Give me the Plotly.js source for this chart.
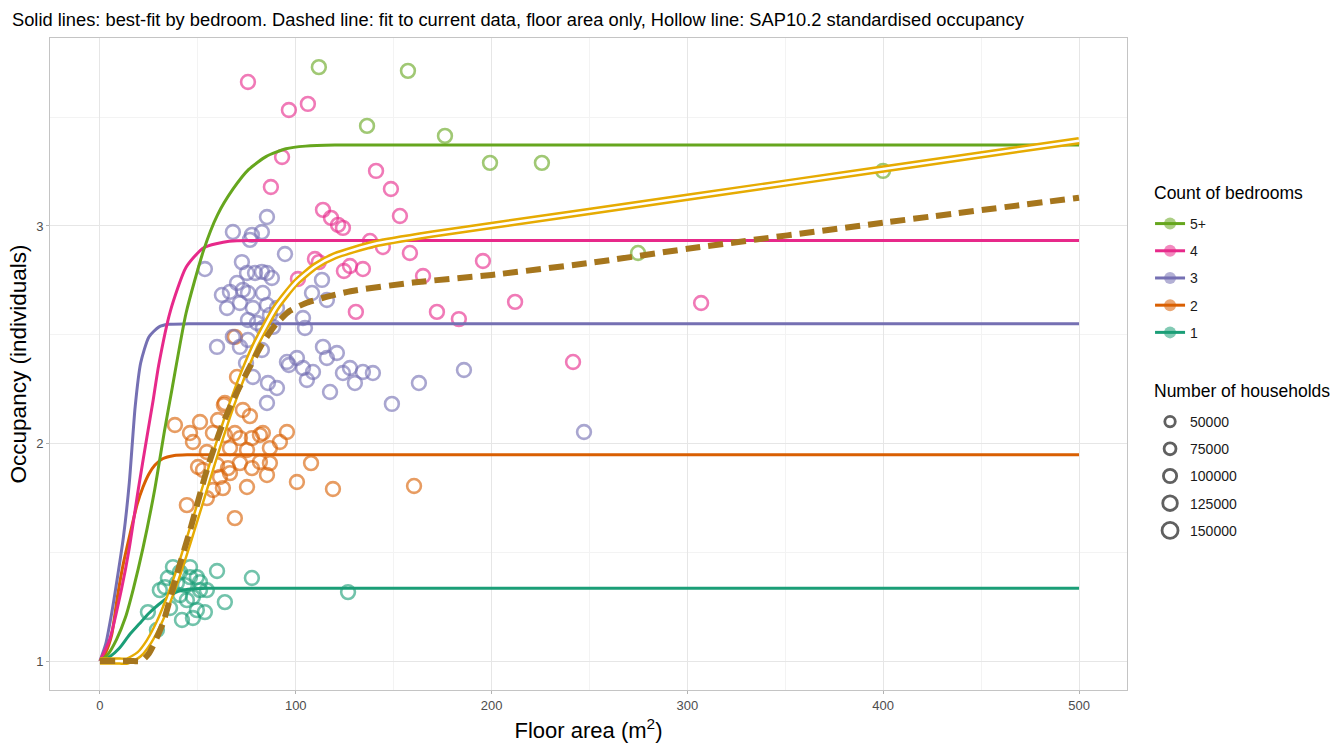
<!DOCTYPE html>
<html>
<head>
<meta charset="utf-8">
<script src="https://cdn.plot.ly/plotly-3.0.1.min.js"></script>
<style>html,body{margin:0;padding:0;background:#fff;}#chart{width:1343px;height:744px;}</style>
</head>
<body>
<div id="chart"></div>
<script>
// ---------- data ----------
var bedroomLabels = ["5+", "4", "3", "2", "1"];
var bedroomColors = {"5+": "#66A61E", "4": "#E7298A", "3": "#7570B3", "2": "#D95F02", "1": "#1B9E77"};

// observed points (floor area m2, occupancy)
var pts5X = [111.8, 157.3, 136.4, 176.2, 199.2, 225.7, 274.8, 399.9];
var pts5Y = [3.730, 3.713, 3.460, 3.414, 3.290, 3.290, 2.876, 3.253];

var pts4X = [75.6, 96.5, 106.2, 93.0, 87.3, 113.9, 118.0, 121.6, 124.1, 141.0, 148.6, 153.2, 137.9, 144.5, 134.3, 127.7, 130.7, 109.8, 101.1, 158.3, 165.0, 172.1, 183.3, 195.6, 212.0, 241.6, 307.0, 124.6, 111.8];
var pts4Y = [3.662, 3.533, 3.561, 3.317, 3.179, 3.074, 3.037, 3.005, 2.991, 3.253, 3.170, 3.046, 2.931, 2.903, 2.802, 2.816, 2.605, 2.848, 2.756, 2.876, 2.770, 2.605, 2.572, 2.839, 2.651, 2.375, 2.646, 2.793, 2.834];

var pts3X = [53.6, 67.9, 77.6, 82.7, 85.3, 94.5, 72.5, 76.6, 75.1, 79.2, 82.7, 85.3, 87.8, 70.0, 62.3, 66.4, 73.0, 75.6, 83.2, 64.9, 71.5, 78.1, 85.3, 90.4, 86.8, 103.7, 108.3, 104.7, 75.6, 80.2, 83.2, 88.4, 67.9, 59.8, 71.5, 75.6, 82.7, 78.1, 85.8, 90.4, 85.3, 95.5, 100.6, 103.7, 108.8, 105.7, 113.9, 115.9, 121.0, 124.1, 117.5, 127.7, 134.3, 139.4, 130.2, 149.1, 162.9, 185.9, 247.2, 96.5, 74.6, 113.4, 115.9];
var pts3Y = [2.802, 2.972, 2.959, 2.972, 3.041, 2.871, 2.834, 2.936, 2.784, 2.784, 2.789, 2.784, 2.761, 2.738, 2.683, 2.697, 2.706, 2.692, 2.692, 2.623, 2.646, 2.623, 2.637, 2.623, 2.591, 2.577, 2.692, 2.531, 2.568, 2.554, 2.531, 2.536, 2.490, 2.444, 2.444, 2.476, 2.430, 2.306, 2.278, 2.255, 2.186, 2.375, 2.393, 2.347, 2.329, 2.292, 2.444, 2.393, 2.416, 2.324, 2.237, 2.347, 2.329, 2.324, 2.278, 2.182, 2.278, 2.338, 2.053, 2.361, 2.370, 2.752, 2.660];

var pts2X = [63.3, 51.1, 60.3, 73.0, 76.6, 46.0, 47.5, 57.7, 63.8, 68.9, 71.5, 77.6, 81.7, 83.2, 91.9, 95.5, 54.6, 66.4, 75.1, 86.8, 50.1, 52.6, 59.8, 65.4, 71.5, 77.6, 81.7, 86.8, 61.3, 66.4, 57.7, 62.8, 75.1, 85.3, 100.6, 107.8, 119.0, 44.4, 54.6, 68.9, 38.3, 68.9, 70.0, 63.8, 160.4];
var pts2Y = [2.177, 2.099, 2.108, 2.154, 2.126, 2.048, 2.007, 2.048, 2.039, 2.048, 2.025, 2.025, 2.039, 2.048, 2.007, 2.053, 1.961, 1.979, 1.970, 1.979, 1.892, 1.878, 1.901, 1.887, 1.910, 1.887, 1.915, 1.910, 1.846, 1.864, 1.786, 1.795, 1.800, 1.855, 1.823, 1.910, 1.791, 1.717, 1.749, 1.657, 2.085, 2.490, 2.306, 2.186, 1.805];

var pts1X = [37.3, 40.9, 46.0, 59.8, 33.2, 39.3, 46.0, 49.5, 51.1, 54.6, 30.6, 40.9, 47.5, 51.1, 24.5, 35.8, 41.9, 47.5, 49.5, 53.6, 63.8, 29.1, 44.4, 77.6, 126.7, 43.4, 34.7];
var pts1Y = [1.432, 1.409, 1.432, 1.414, 1.340, 1.359, 1.386, 1.386, 1.363, 1.326, 1.326, 1.303, 1.294, 1.326, 1.225, 1.244, 1.189, 1.198, 1.234, 1.225, 1.271, 1.143, 1.280, 1.382, 1.317, 1.349, 1.382];

// best-fit curves by bedroom
var fit5X = [0, 4, 8.5, 13, 17, 22, 28, 33, 37, 44, 53, 60, 68, 76, 85, 95, 105, 120, 150, 200, 300, 400, 500];
var fit5Y = [1, 1.03, 1.10, 1.20, 1.33, 1.52, 1.79, 2.06, 2.26, 2.60, 2.89, 3.05, 3.17, 3.26, 3.32, 3.355, 3.367, 3.372, 3.372, 3.372, 3.372, 3.372, 3.372];
var fit4X = [0, 5, 11, 15, 19.6, 24, 27.2, 30, 36, 44, 53, 66, 80, 100, 150, 250, 350, 500];
var fit4Y = [1, 1.10, 1.33, 1.52, 1.79, 2.03, 2.20, 2.36, 2.61, 2.81, 2.90, 2.93, 2.933, 2.933, 2.933, 2.933, 2.933, 2.933];
var fit3X = [0, 3, 6, 8, 12, 15, 18, 20.8, 25, 30, 35, 45, 60, 100, 200, 300, 400, 500];
var fit3Y = [1, 1.08, 1.22, 1.33, 1.57, 1.82, 2.17, 2.37, 2.49, 2.535, 2.548, 2.55, 2.55, 2.55, 2.55, 2.55, 2.55, 2.55];
var fit2X = [0, 3, 6, 9, 12, 15, 19, 22, 25, 28, 32, 38, 45, 60, 100, 200, 300, 400, 500];
var fit2Y = [1, 1.04, 1.12, 1.30, 1.45, 1.57, 1.72, 1.80, 1.86, 1.90, 1.93, 1.945, 1.948, 1.948, 1.948, 1.948, 1.948, 1.948, 1.948];
var fit1X = [0, 5, 10, 15, 20, 25, 30, 35, 40, 45, 55, 70, 100, 200, 300, 400, 500];
var fit1Y = [1, 1.02, 1.06, 1.12, 1.17, 1.22, 1.26, 1.295, 1.32, 1.33, 1.335, 1.335, 1.335, 1.335, 1.335, 1.335, 1.335];

// dashed: fit to current data, floor area only
var dashX = [0, 17, 21, 25, 32, 39, 46, 54, 61, 68, 77, 83, 90, 97, 105, 114, 128, 160, 200, 250, 300, 400, 500];
var dashY = [1, 1, 1.0, 1.035, 1.17, 1.39, 1.60, 1.86, 2.05, 2.20, 2.36, 2.46, 2.55, 2.61, 2.645, 2.67, 2.70, 2.74, 2.775, 2.83, 2.895, 3.015, 3.13];

// hollow: SAP10.2 standardised occupancy
var sapX = [0, 10, 13.9, 20, 25, 30, 35, 40, 45, 50, 55, 60, 65, 70, 75, 80, 90, 100, 110, 120, 140, 170, 200, 300, 400, 500];
var sapY = [1, 1, 1, 1.031, 1.089, 1.173, 1.281, 1.406, 1.545, 1.690, 1.837, 1.982, 2.119, 2.246, 2.361, 2.463, 2.626, 2.739, 2.815, 2.863, 2.917, 2.963, 3.002, 3.132, 3.262, 3.392];

// size legend
var householdLevels = [50000, 75000, 100000, 125000, 150000];
var pointHouseholds = 110000;

var xTicks = [0, 100, 200, 300, 400, 500];
var yTicks = [1, 2, 3];

// ---------- helpers ----------
function hexA(hex, a) {
  var r = parseInt(hex.substr(1, 2), 16), g = parseInt(hex.substr(3, 2), 16), b = parseInt(hex.substr(5, 2), 16);
  return 'rgba(' + r + ',' + g + ',' + b + ',' + a + ')';
}
function sizeFor(h) { return 10.5 + (h - 50000) / 100000 * 5.5; }

var ptsByBed = {"5+": [pts5X, pts5Y], "4": [pts4X, pts4Y], "3": [pts3X, pts3Y], "2": [pts2X, pts2Y], "1": [pts1X, pts1Y]};
var fitByBed = {"5+": [fit5X, fit5Y], "4": [fit4X, fit4Y], "3": [fit3X, fit3Y], "2": [fit2X, fit2Y], "1": [fit1X, fit1Y]};

var traces = [];
["1", "2", "3", "4", "5+"].forEach(function (b) {
  var d = ptsByBed[b];
  traces.push({
    type: 'scatter', mode: 'markers', x: d[0], y: d[1], showlegend: false, hoverinfo: 'skip',
    marker: {symbol: 'circle-open', size: sizeFor(pointHouseholds), color: hexA(bedroomColors[b], 0.62), line: {width: 2.6}}
  });
});
["1", "2", "3", "4", "5+"].forEach(function (b) {
  var d = fitByBed[b];
  traces.push({
    type: 'scatter', mode: 'lines', x: d[0], y: d[1], showlegend: false, hoverinfo: 'skip',
    line: {color: bedroomColors[b], width: 3, shape: 'spline', smoothing: 0.6}
  });
});
traces.push({type: 'scatter', mode: 'lines', x: sapX, y: sapY, showlegend: false, hoverinfo: 'skip',
  line: {color: '#E6AB02', width: 7.5, shape: 'spline', smoothing: 0.6}});
traces.push({type: 'scatter', mode: 'lines', x: sapX, y: sapY, showlegend: false, hoverinfo: 'skip',
  line: {color: '#FFFFFF', width: 2.6, shape: 'spline', smoothing: 0.6}});
traces.push({type: 'scatter', mode: 'lines', x: dashX, y: dashY, showlegend: false, hoverinfo: 'skip',
  line: {color: '#A6761D', width: 6, dash: '15px,8px', shape: 'spline', smoothing: 0.6}});

bedroomLabels.forEach(function (b) {
  traces.push({
    type: 'scatter', mode: 'lines+markers', x: [-1000], y: [-1000], name: b, legend: 'legend', legendgroup: 'b' + b,
    line: {color: bedroomColors[b], width: 3},
    marker: {symbol: 'circle', size: 12, color: hexA(bedroomColors[b], 0.55), line: {width: 0}}
  });
});
householdLevels.forEach(function (h) {
  traces.push({
    type: 'scatter', mode: 'markers', x: [-1000], y: [-1000], name: String(h), legend: 'legend2', legendgroup: 'h' + h,
    marker: {symbol: 'circle-open', size: sizeFor(h), color: '#606060', line: {width: 2.8}}
  });
});

var layout = {
  width: 1343, height: 744,
  paper_bgcolor: '#ffffff', plot_bgcolor: '#ffffff',
  font: {family: 'Liberation Sans, Arial, sans-serif', color: '#1a1a1a'},
  margin: {l: 50, r: 216, t: 38, b: 54},
  title: {
    text: 'Solid lines: best-fit by bedroom. Dashed line: fit to current data, floor area only, Hollow line: SAP10.2 standardised occupancy',
    xref: 'container', yref: 'container', x: 12 / 1343, y: 1 - 20 / 744, xanchor: 'left', yanchor: 'middle',
    font: {size: 18.3, color: '#000000'}
  },
  xaxis: {
    range: [-25.5, 524.5], tickvals: xTicks, ticktext: xTicks.map(String),
    showgrid: true, gridcolor: '#e6e6e6', gridwidth: 1,
    minor: {dtick: 50, tick0: 0, showgrid: true, gridcolor: '#f3f3f3', gridwidth: 1},
    zeroline: false, showline: true, mirror: true, linecolor: '#c4c4c4', linewidth: 1,
    ticks: 'outside', ticklen: 3, tickcolor: '#b3b3b3',
    tickfont: {size: 13, color: '#4d4d4d'},
    title: {text: 'Floor area (m<sup>2</sup>)', font: {size: 22, color: '#000000'}, standoff: 11}
  },
  yaxis: {
    range: [0.867, 3.864], tickvals: yTicks, ticktext: yTicks.map(String),
    showgrid: true, gridcolor: '#e6e6e6', gridwidth: 1,
    minor: {dtick: 0.5, tick0: 1, showgrid: true, gridcolor: '#f3f3f3', gridwidth: 1},
    zeroline: false, showline: true, mirror: true, linecolor: '#c4c4c4', linewidth: 1,
    ticks: 'outside', ticklen: 3, tickcolor: '#b3b3b3',
    tickfont: {size: 13, color: '#4d4d4d'},
    title: {text: 'Occupancy (individuals)', font: {size: 22.5, color: '#000000'}, standoff: 3}
  },
  legend: {
    x: 1.0214, y: 0.7393, xanchor: 'left', yanchor: 'top', bgcolor: 'rgba(0,0,0,0)',
    font: {size: 14, color: '#1a1a1a'}, tracegroupgap: 6.0, itemwidth: 30, traceorder: 'grouped'
  },
  legend2: {
    x: 1.0214, y: 0.4356, xanchor: 'left', yanchor: 'top', bgcolor: 'rgba(0,0,0,0)',
    font: {size: 14, color: '#1a1a1a'}, tracegroupgap: 6.0, itemwidth: 30, itemsizing: 'trace', traceorder: 'grouped'
  },
  annotations: [
    {text: 'Count of bedrooms', xref: 'paper', yref: 'paper', x: (1152 - 50) / 1077, y: (690 - 193) / 652,
      xanchor: 'left', yanchor: 'middle', showarrow: false, font: {size: 17.5, color: '#000000'}},
    {text: 'Number of households', xref: 'paper', yref: 'paper', x: (1152 - 50) / 1077, y: (690 - 391) / 652,
      xanchor: 'left', yanchor: 'middle', showarrow: false, font: {size: 17.5, color: '#000000'}}
  ],
  showlegend: true
};

Plotly.newPlot('chart', traces, layout, {displayModeBar: false, staticPlot: true});
</script>
</body>
</html>
